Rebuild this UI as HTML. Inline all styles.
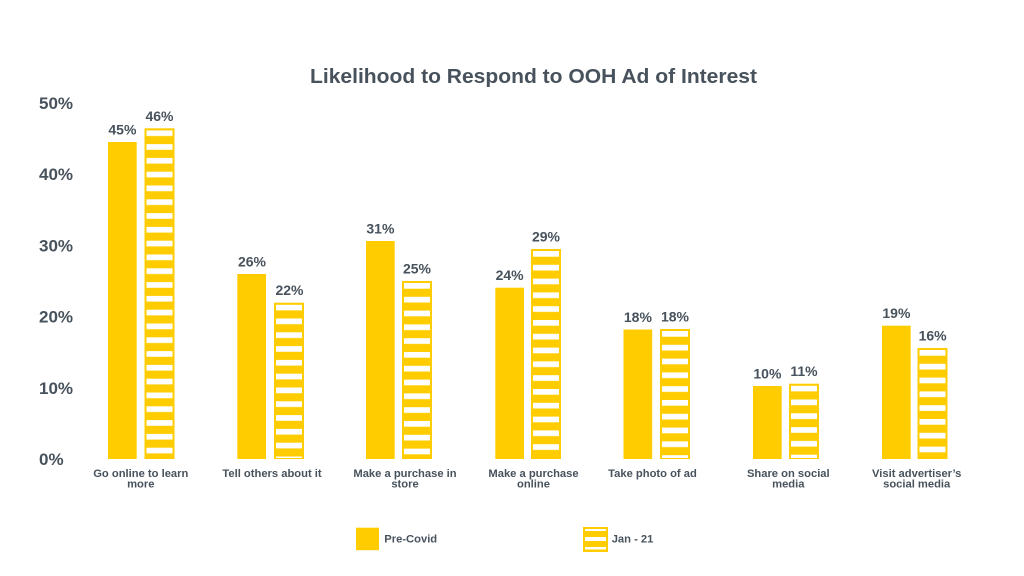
<!DOCTYPE html>
<html>
<head>
<meta charset="utf-8">
<style>
  html,body{margin:0;padding:0;background:#ffffff;}
  svg{display:block;}
  text{font-family:"Liberation Sans",Arial,sans-serif;font-weight:bold;fill:#47525c;}
</style>
</head>
<body>
<svg width="1024" height="576" viewBox="0 0 1024 576" xmlns="http://www.w3.org/2000/svg">
  <defs>
    <pattern id="st" patternUnits="userSpaceOnUse" x="0" y="2" width="40" height="13.8">
      <rect x="0" y="0" width="40" height="5.7" fill="#ffffff"/>
    </pattern>
  </defs>
  <rect width="1024" height="576" fill="#ffffff"/>

  <!-- Title -->
  <text x="310" y="83" font-size="20.5" textLength="447" lengthAdjust="spacingAndGlyphs">Likelihood to Respond to OOH Ad of Interest</text>

  <!-- Y axis labels -->
  <g font-size="17">
    <text x="39" y="109">50%</text>
    <text x="39" y="180">40%</text>
    <text x="39" y="251.5">30%</text>
    <text x="39" y="322.5">20%</text>
    <text x="39" y="394">10%</text>
    <text x="39" y="465">0%</text>
  </g>

  <!-- Pre-Covid bars -->
  <g fill="#FFCC00">
    <rect x="108" y="142" width="28.7" height="317"/>
    <rect x="237.3" y="274" width="28.7" height="185"/>
    <rect x="366" y="241" width="28.7" height="218"/>
    <rect x="495.3" y="287.7" width="28.7" height="171.3"/>
    <rect x="623.5" y="329.5" width="28.7" height="129.5"/>
    <rect x="753" y="386" width="28.7" height="73"/>
    <rect x="882" y="325.7" width="28.7" height="133.3"/>
  </g>

  <!-- Jan-21 striped bars -->
  <g transform="translate(144.5,128.3)">
    <rect x="0" y="0" width="30" height="330.7" fill="#FFCC00"/>
    <rect x="2" y="2" width="26" height="327.7" fill="url(#st)"/>
  </g>
  <g transform="translate(274,302.7)">
    <rect x="0" y="0" width="30" height="156.3" fill="#FFCC00"/>
    <rect x="2" y="2" width="26" height="153.3" fill="url(#st)"/>
  </g>
  <g transform="translate(402,281)">
    <rect x="0" y="0" width="30" height="178" fill="#FFCC00"/>
    <rect x="2" y="2" width="26" height="175" fill="url(#st)"/>
  </g>
  <g transform="translate(531,249)">
    <rect x="0" y="0" width="30" height="210" fill="#FFCC00"/>
    <rect x="2" y="2" width="26" height="207" fill="url(#st)"/>
  </g>
  <g transform="translate(660,329)">
    <rect x="0" y="0" width="30" height="130" fill="#FFCC00"/>
    <rect x="2" y="2" width="26" height="127" fill="url(#st)"/>
  </g>
  <g transform="translate(789,383.7)">
    <rect x="0" y="0" width="30" height="75.3" fill="#FFCC00"/>
    <rect x="2" y="2" width="26" height="72.3" fill="url(#st)"/>
  </g>
  <g transform="translate(917.5,348)">
    <rect x="0" y="0" width="30" height="111" fill="#FFCC00"/>
    <rect x="2" y="2" width="26" height="108" fill="url(#st)"/>
  </g>

  <!-- Data labels -->
  <g font-size="14" text-anchor="middle">
    <text x="122.4" y="134.5">45%</text>
    <text x="159.5" y="121">46%</text>
    <text x="252" y="266.5">26%</text>
    <text x="289.5" y="295">22%</text>
    <text x="380.4" y="233.5">31%</text>
    <text x="417" y="273.5">25%</text>
    <text x="509.6" y="280">24%</text>
    <text x="546" y="241.5">29%</text>
    <text x="637.9" y="322">18%</text>
    <text x="675" y="321.5">18%</text>
    <text x="767.4" y="378.5">10%</text>
    <text x="804" y="376">11%</text>
    <text x="896.4" y="318">19%</text>
    <text x="932.6" y="340.5">16%</text>
  </g>

  <!-- Category labels -->
  <g font-size="11.2" text-anchor="middle">
    <text x="140.8" y="476.8">Go online to learn</text>
    <text x="140.8" y="487.6">more</text>
    <text x="272" y="476.8">Tell others about it</text>
    <text x="405" y="476.8">Make a purchase in</text>
    <text x="405" y="487.6">store</text>
    <text x="533.5" y="476.8">Make a purchase</text>
    <text x="533.5" y="487.6">online</text>
    <text x="652.5" y="476.8">Take photo of ad</text>
    <text x="788.3" y="476.8">Share on social</text>
    <text x="788.3" y="487.6">media</text>
    <text x="916.7" y="476.8">Visit advertiser’s</text>
    <text x="916.7" y="487.6">social media</text>
  </g>

  <!-- Legend -->
  <rect x="356" y="527.7" width="23" height="22.5" fill="#FFCC00"/>
  <text x="384.3" y="542.6" font-size="11.2">Pre-Covid</text>

  <rect x="583" y="527" width="25" height="25" fill="#FFCC00"/>
  <rect x="585" y="529" width="21" height="2" fill="#ffffff"/>
  <rect x="585" y="537" width="21" height="4" fill="#ffffff"/>
  <rect x="585" y="547" width="21" height="2.5" fill="#ffffff"/>
  <text x="611.7" y="542.6" font-size="11.2">Jan - 21</text>
</svg>
</body>
</html>
